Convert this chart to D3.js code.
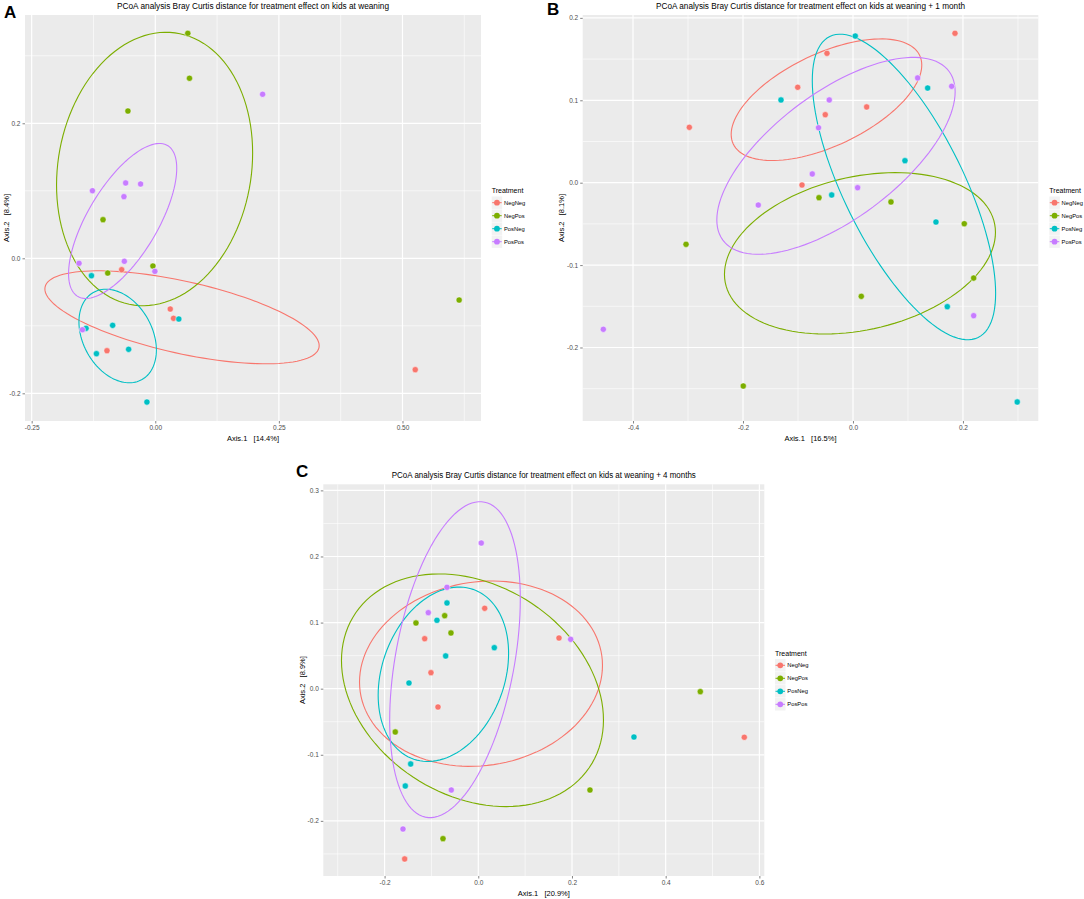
<!DOCTYPE html>
<html>
<head>
<meta charset="utf-8">
<script src="https://cdn.jsdelivr.net/npm/d3@7"></script>
<style>
  html, body { margin: 0; padding: 0; background: #ffffff; }
  svg { display: block; }
</style>
</head>
<body>
<div id="chart"></div>
<script>
// ---------------- DATA ----------------
const groups = ["NegNeg", "NegPos", "PosNeg", "PosPos"];
const groupColors = ["#F8766D", "#7CAE00", "#00BFC4", "#C77CFF"];

// Panel A: at weaning
const aNegNeg = [[-0.068,-0.0169],[0.0303,-0.0751],[0.0369,-0.0889],[-0.0977,-0.1369],[0.5258,-0.165]];
const aNegPos = [[0.0658,0.3333],[0.0692,0.2667],[-0.0553,0.2182],[-0.1057,0.0572],[-0.0048,-0.0114],[-0.0962,-0.0218],[0.6146,-0.0618]];
const aPosNeg = [[-0.1291,-0.0258],[0.0476,-0.0899],[-0.0862,-0.0993],[-0.14,-0.1037],[-0.119,-0.1413],[-0.0539,-0.1348],[-0.0169,-0.2129]];
const aPosPos = [[0.2171,0.243],[-0.0599,0.1116],[-0.0297,0.1101],[-0.1271,0.1001],[-0.0634,0.0913],[-0.1542,-0.0074],[-0.0626,-0.0044],[-0.0008,-0.0193],[-0.1473,-0.1058]];
// ellipses: [centerX, centerY, halfWidthX, halfHeightY, correlation]
const aEllipses = [[0.0541,-0.0874,0.2774,0.0689,-0.61],[-0.0014,0.1323,0.1983,0.2025,0.117],[-0.0761,-0.1151,0.0783,0.0693,-0.30],[-0.066,0.0553,0.1094,0.1148,0.68]];
const aXTicks = [-0.25, 0.00, 0.25, 0.50];
const aXTickLabels = ["-0.25", "0.00", "0.25", "0.50"];
const aYTicks = [-0.2, 0.0, 0.2];
const aYTickLabels = ["-0.2", "0.0", "0.2"];

// Panel B: weaning + 1 month
const bNegNeg = [[-0.2976,0.0672],[-0.1005,0.1158],[-0.0927,-0.0028],[-0.0473,0.157],[0.0249,0.0919],[-0.0504,0.0825],[0.1855,0.1813]];
const bNegPos = [[-0.3036,-0.0748],[-0.1995,-0.2467],[-0.0618,-0.0182],[0.0691,-0.0234],[0.2024,-0.0498],[0.2195,-0.1157],[0.0151,-0.1379]];
const bPosNeg = [[-0.1309,0.1004],[-0.0387,-0.0149],[0.0042,0.178],[0.1358,0.1149],[0.0945,0.0267],[0.1509,-0.0477],[0.1715,-0.1505],[0.2987,-0.2661]];
const bPosPos = [[-0.454,-0.1779],[-0.1722,-0.0271],[-0.074,0.0106],[-0.0627,0.0667],[-0.0431,0.1004],[0.1176,0.1271],[0.1795,0.117],[0.0085,-0.0061],[0.2195,-0.1614]];
const bEllipses = [[-0.0482,0.1007,0.1733,0.0738,0.57],[0.0127,-0.0857,0.2464,0.0979,0.26],[0.0927,-0.0052,0.1667,0.1854,-0.696],[-0.0309,0.0326,0.2167,0.1195,0.651]];
const bXTicks = [-0.4, -0.2, 0.0, 0.2];
const bXTickLabels = ["-0.4", "-0.2", "0.0", "0.2"];
const bYTicks = [-0.2, -0.1, 0.0, 0.1, 0.2];
const bYTickLabels = ["-0.2", "-0.1", "0.0", "0.1", "0.2"];

// Panel C: weaning + 4 months
const cNegNeg = [[0.0137,0.1216],[-0.1144,0.0756],[-0.101,0.0242],[-0.086,-0.0277],[-0.1571,-0.2576],[0.1723,0.0767],[0.5678,-0.0735]];
const cNegPos = [[-0.0717,0.1104],[-0.133,0.0994],[-0.0583,0.0843],[-0.1772,-0.0655],[-0.0753,-0.2269],[0.4739,-0.0045],[0.2384,-0.1533]];
const cPosNeg = [[-0.0668,0.1297],[-0.0882,0.1035],[0.0342,0.062],[-0.0696,0.0495],[-0.1479,0.0086],[-0.1443,-0.1139],[-0.1558,-0.1472],[0.3323,-0.0731]];
const cPosPos = [[0.0064,0.2204],[-0.0668,0.1534],[-0.1067,0.115],[0.1972,0.0747],[-0.0576,-0.1533],[-0.1607,-0.2123]];
const cEllipses = [[0.0058,0.0227,0.2593,0.1402,0.09],[-0.0124,-0.0024,0.2796,0.176,-0.255],[-0.0745,0.0218,0.1392,0.1319,0.24],[-0.0497,0.0439,0.1394,0.239,0.383]];
const cXTicks = [-0.2, 0.0, 0.2, 0.4, 0.6];
const cXTickLabels = ["-0.2", "0.0", "0.2", "0.4", "0.6"];
const cYTicks = [-0.2, -0.1, 0.0, 0.1, 0.2, 0.3];
const cYTickLabels = ["-0.2", "-0.1", "0.0", "0.1", "0.2", "0.3"];

const titles = [
  "PCoA analysis Bray Curtis distance for treatment effect on kids at weaning",
  "PCoA analysis Bray Curtis distance for treatment effect on kids at weaning + 1 month",
  "PCoA analysis Bray Curtis distance for treatment effect on kids at weaning + 4 months"
];
const xTitles = ["Axis.1   [14.4%]", "Axis.1   [16.5%]", "Axis.1   [20.9%]"];
const yTitles = ["Axis.2   [8.4%]", "Axis.2   [8.1%]", "Axis.2   [8.9%]"];
const letters = ["A", "B", "C"];
const legendTitle = "Treatment";

// ---------------- LAYOUT ----------------
const W = 1084, H = 899;
const FONT = "'Liberation Sans', Arial, Helvetica, sans-serif";

const panels = [
  { letter: letters[0], title: titles[0], titleW: 272, xTitle: xTitles[0], yTitle: yTitles[0],
    box: {l: 25, r: 481, t: 15, b: 421}, xDom: [-0.2635, 0.6588], yDom: [-0.241, 0.3604],
    xTicks: aXTicks, xLabels: aXTickLabels, yTicks: aYTicks, yLabels: aYTickLabels,
    series: [aNegNeg, aNegPos, aPosNeg, aPosPos], ellipses: aEllipses,
    legend: {x: 491.7, y: 190.7}, letterPos: {x: 4, y: 18}, yTitleX: 9 },
  { letter: letters[1], title: titles[1], titleW: 309, xTitle: xTitles[1], yTitle: yTitles[1],
    box: {l: 582.7, r: 1038.3, t: 15, b: 421}, xDom: [-0.4915, 0.337], yDom: [-0.2892, 0.2035],
    xTicks: bXTicks, xLabels: bXTickLabels, yTicks: bYTicks, yLabels: bYTickLabels,
    series: [bNegNeg, bNegPos, bPosNeg, bPosPos], ellipses: bEllipses,
    legend: {x: 1049.3, y: 190.7}, letterPos: {x: 547, y: 15}, yTitleX: 564 },
  { letter: letters[2], title: titles[2], titleW: 304, xTitle: xTitles[2], yTitle: yTitles[2],
    box: {l: 323.3, r: 764.3, t: 484.3, b: 876}, xDom: [-0.3308, 0.6105], yDom: [-0.2834, 0.3092],
    xTicks: cXTicks, xLabels: cXTickLabels, yTicks: cYTicks, yLabels: cYTickLabels,
    series: [cNegNeg, cNegPos, cPosNeg, cPosPos], ellipses: cEllipses,
    legend: {x: 775, y: 653.3}, letterPos: {x: 296, y: 477}, yTitleX: 305 }
];

const svg = d3.select("#chart").append("svg")
  .attr("width", W).attr("height", H)
  .attr("viewBox", `0 0 ${W} ${H}`)
  .style("font-family", FONT);

svg.append("rect").attr("width", W).attr("height", H).attr("fill", "#ffffff");

function minorTicks(ticks, dom) {
  const step = ticks[1] - ticks[0];
  const out = [];
  for (let i = -1; i < ticks.length; i++) {
    const base = i < 0 ? ticks[0] - step : ticks[i];
    const v = base + step / 2;
    if (v > Math.min(...dom) && v < Math.max(...dom)) out.push(v);
  }
  return out;
}

panels.forEach((p, pi) => {
  const g = svg.append("g");
  const x = d3.scaleLinear().domain(p.xDom).range([p.box.l, p.box.r]);
  const y = d3.scaleLinear().domain(p.yDom).range([p.box.b, p.box.t]);

  // panel background
  g.append("rect")
    .attr("x", p.box.l).attr("y", p.box.t)
    .attr("width", p.box.r - p.box.l).attr("height", p.box.b - p.box.t)
    .attr("fill", "#EBEBEB");

  // minor grid
  const grid = g.append("g");
  minorTicks(p.xTicks, p.xDom).forEach(v => {
    grid.append("line").attr("x1", x(v)).attr("x2", x(v)).attr("y1", p.box.t).attr("y2", p.box.b)
      .attr("stroke", "#ffffff").attr("stroke-width", 0.6);
  });
  minorTicks(p.yTicks, p.yDom).forEach(v => {
    grid.append("line").attr("y1", y(v)).attr("y2", y(v)).attr("x1", p.box.l).attr("x2", p.box.r)
      .attr("stroke", "#ffffff").attr("stroke-width", 0.6);
  });
  // major grid
  p.xTicks.forEach(v => {
    grid.append("line").attr("x1", x(v)).attr("x2", x(v)).attr("y1", p.box.t).attr("y2", p.box.b)
      .attr("stroke", "#ffffff").attr("stroke-width", 1.2);
  });
  p.yTicks.forEach(v => {
    grid.append("line").attr("y1", y(v)).attr("y2", y(v)).attr("x1", p.box.l).attr("x2", p.box.r)
      .attr("stroke", "#ffffff").attr("stroke-width", 1.2);
  });

  // axes via d3
  const xAxis = d3.axisBottom(x).tickValues(p.xTicks)
    .tickFormat((d, i) => p.xLabels[i]).tickSize(2.5).tickPadding(2);
  const yAxis = d3.axisLeft(y).tickValues(p.yTicks)
    .tickFormat((d, i) => p.yLabels[i]).tickSize(2.5).tickPadding(2);

  const gx = g.append("g").attr("transform", `translate(0,${p.box.b})`).call(xAxis);
  const gy = g.append("g").attr("transform", `translate(${p.box.l},0)`).call(yAxis);
  [gx, gy].forEach(ax => {
    ax.select(".domain").remove();
    ax.selectAll(".tick line").attr("stroke", "#333333").attr("stroke-width", 0.6);
    ax.selectAll(".tick text").attr("fill", "#4D4D4D").style("font-size", "6.5px").style("font-family", FONT);
  });

  // ellipses
  const line = d3.line().x(d => x(d[0])).y(d => y(d[1])).curve(d3.curveLinearClosed);
  p.ellipses.forEach((e, gi) => {
    const [cx, cy, sx, sy, r] = e;
    const s = Math.sqrt(1 - r * r);
    const pts = d3.range(0, 120).map(k => {
      const t = (k / 120) * 2 * Math.PI;
      return [cx + sx * Math.cos(t), cy + sy * (r * Math.cos(t) + s * Math.sin(t))];
    });
    g.append("path").attr("d", line(pts)).attr("fill", "none")
      .attr("stroke", groupColors[gi]).attr("stroke-width", 1.1);
  });

  // points
  p.series.forEach((ser, gi) => {
    g.append("g").selectAll("circle").data(ser).enter().append("circle")
      .attr("cx", d => x(d[0])).attr("cy", d => y(d[1])).attr("r", 3.1)
      .attr("fill", groupColors[gi])
      .attr("stroke", "#ffffff").attr("stroke-width", 0.6).attr("stroke-opacity", 0.8);
  });

  // titles
  const cxMid = (p.box.l + p.box.r) / 2;
  g.append("text").attr("x", cxMid).attr("y", p.box.t - 6)
    .attr("text-anchor", "middle").style("font-size", "8.5px").attr("fill", "#000")
    .attr("textLength", p.titleW).attr("lengthAdjust", "spacingAndGlyphs")
    .text(p.title);
  g.append("text").attr("x", cxMid).attr("y", p.box.b + 20)
    .attr("text-anchor", "middle").style("font-size", "7.5px").attr("fill", "#000")
    .style("white-space", "pre").attr("xml:space", "preserve")
    .text(p.xTitle);
  g.append("text")
    .attr("transform", `translate(${p.yTitleX},${(p.box.t + p.box.b) / 2}) rotate(-90)`)
    .attr("text-anchor", "middle").style("font-size", "7.5px").attr("fill", "#000")
    .style("white-space", "pre").attr("xml:space", "preserve")
    .text(p.yTitle);
  g.append("text").attr("x", p.letterPos.x).attr("y", p.letterPos.y)
    .style("font-size", "17px").style("font-weight", "bold").attr("fill", "#000")
    .text(p.letter);

  // legend
  const lg = g.append("g").attr("transform", `translate(${p.legend.x},${p.legend.y})`);
  lg.append("text").attr("x", 0).attr("y", 2.5).style("font-size", "7px").attr("fill", "#000")
    .text(legendTitle);
  groups.forEach((name, gi) => {
    const ky = 12 + gi * 13;
    const item = lg.append("g").attr("transform", `translate(0,${ky})`);
    item.append("rect").attr("x", 0).attr("y", -6.2).attr("width", 10.5).attr("height", 12.4)
      .attr("fill", "#F2F2F2");
    item.append("line").attr("x1", 0.5).attr("x2", 10).attr("y1", 0).attr("y2", 0)
      .attr("stroke", groupColors[gi]).attr("stroke-width", 1);
    item.append("circle").attr("cx", 5.25).attr("cy", 0).attr("r", 2.9)
      .attr("fill", groupColors[gi]);
    item.append("text").attr("x", 12.3).attr("y", 2.1).style("font-size", "5.8px").attr("fill", "#000")
      .text(name);
  });
});
</script>
</body>
</html>
